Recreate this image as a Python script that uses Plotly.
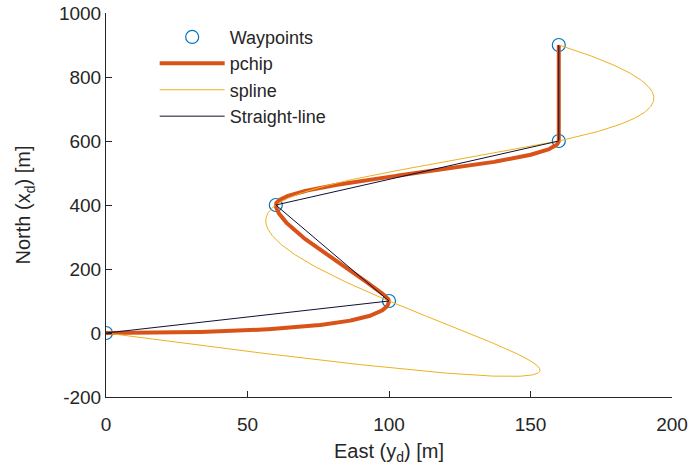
import numpy as np
import plotly.graph_objects as go

# Waypoints: East (y_d) and North (x_d) in metres, with the time of each waypoint
east_wp = [0, 100, 60, 160, 160]
north_wp = [0, 100, 400, 600, 900]
wp_time = [0, 40, 60, 80, 100]

x_ticks = [0, 50, 100, 150, 200]
y_ticks = [-200, 0, 200, 400, 600, 800, 1000]
y_tick_text = ["-200", "0", "200", "400", "600", "800", "1000"]


def pchip(t, v, tq):
    t = np.asarray(t, float); v = np.asarray(v, float)
    h = np.diff(t); d = np.diff(v) / h
    n = len(t); m = np.zeros(n)
    for k in range(1, n - 1):
        if d[k - 1] * d[k] > 0:
            w1 = 2 * h[k] + h[k - 1]; w2 = h[k] + 2 * h[k - 1]
            m[k] = (w1 + w2) / (w1 / d[k - 1] + w2 / d[k])
    def end(h0, h1, d0, d1):
        s = ((2 * h0 + h1) * d0 - h0 * d1) / (h0 + h1)
        if np.sign(s) != np.sign(d0):
            s = 0.0
        elif np.sign(d0) != np.sign(d1) and abs(s) > abs(3 * d0):
            s = 3 * d0
        return s
    m[0] = end(h[0], h[1], d[0], d[1])
    m[-1] = end(h[-1], h[-2], d[-1], d[-2])
    idx = np.clip(np.searchsorted(t, tq) - 1, 0, n - 2)
    s = (tq - t[idx]) / h[idx]
    hh = h[idx]
    h00 = 2 * s**3 - 3 * s**2 + 1; h10 = s**3 - 2 * s**2 + s
    h01 = -2 * s**3 + 3 * s**2; h11 = s**3 - s**2
    return h00 * v[idx] + h10 * hh * m[idx] + h01 * v[idx + 1] + h11 * hh * m[idx + 1]


def spline_nak(t, v, tq):
    # cubic spline with not-a-knot end conditions
    t = np.asarray(t, float); v = np.asarray(v, float)
    n = len(t); h = np.diff(t); d = np.diff(v) / h
    A = np.zeros((n, n)); b = np.zeros(n)
    for i in range(1, n - 1):
        A[i, i - 1] = h[i - 1]; A[i, i] = 2 * (h[i - 1] + h[i]); A[i, i + 1] = h[i]
        b[i] = 6 * (d[i] - d[i - 1])
    A[0, 0] = -1 / h[0]; A[0, 1] = 1 / h[0] + 1 / h[1]; A[0, 2] = -1 / h[1]
    A[-1, -3] = -1 / h[-2]; A[-1, -2] = 1 / h[-2] + 1 / h[-1]; A[-1, -1] = -1 / h[-1]
    M = np.linalg.solve(A, b)
    idx = np.clip(np.searchsorted(t, tq) - 1, 0, n - 2)
    a = tq - t[idx]; bb = t[idx + 1] - tq; hh = h[idx]
    return (M[idx] * bb**3 / (6 * hh) + M[idx + 1] * a**3 / (6 * hh)
            + (v[idx] / hh - M[idx] * hh / 6) * bb + (v[idx + 1] / hh - M[idx + 1] * hh / 6) * a)


tq = np.linspace(wp_time[0], wp_time[-1], 1001)

fig = go.Figure()
fig.add_trace(go.Scatter(x=east_wp, y=north_wp, mode="markers", name="Waypoints",
                         marker=dict(symbol="circle-open", size=13, color="#0072BD",
                                     line=dict(width=1.2, color="#0072BD"))))
fig.add_trace(go.Scatter(x=pchip(wp_time, east_wp, tq), y=pchip(wp_time, north_wp, tq),
                         mode="lines", name="pchip", line=dict(color="#D95319", width=4)))
fig.add_trace(go.Scatter(x=spline_nak(wp_time, east_wp, tq), y=spline_nak(wp_time, north_wp, tq),
                         mode="lines", name="spline", line=dict(color="#EDB120", width=1)))
fig.add_trace(go.Scatter(x=east_wp, y=north_wp, mode="lines", name="Straight-line",
                         line=dict(color="#101035", width=1)))

axis_common = dict(showgrid=False, zeroline=False, showline=True, linecolor="#262626",
                   linewidth=1, ticks="inside", ticklen=6, tickcolor="#262626",
                   tickfont=dict(size=19, color="#262626"), mirror=False, automargin=False)
fig.update_xaxes(range=[0, 200], tickvals=x_ticks, ticklabelstandoff=10,
                 title=dict(text="East (y<sub>d</sub>) [m]", font=dict(size=20, color="#262626"),
                            standoff=10), **axis_common)
fig.update_yaxes(range=[-200, 1000], tickvals=y_ticks, ticktext=y_tick_text,
                 title=dict(text="North (x<sub>d</sub>) [m]", font=dict(size=20, color="#262626"),
                            standoff=22), **axis_common)

fig.update_layout(
    width=688, height=473,
    margin=dict(l=106, r=16, t=13, b=76),
    paper_bgcolor="white", plot_bgcolor="white",
    font=dict(family="Liberation Sans, Arial, sans-serif", color="#262626"),
    showlegend=True,
    legend=dict(x=0.086, y=0.985, xanchor="left", yanchor="top", bgcolor="rgba(255,255,255,0)",
                font=dict(size=18, color="#262626"), itemwidth=65, tracegroupgap=0),
)

fig.write_html("out.html")
